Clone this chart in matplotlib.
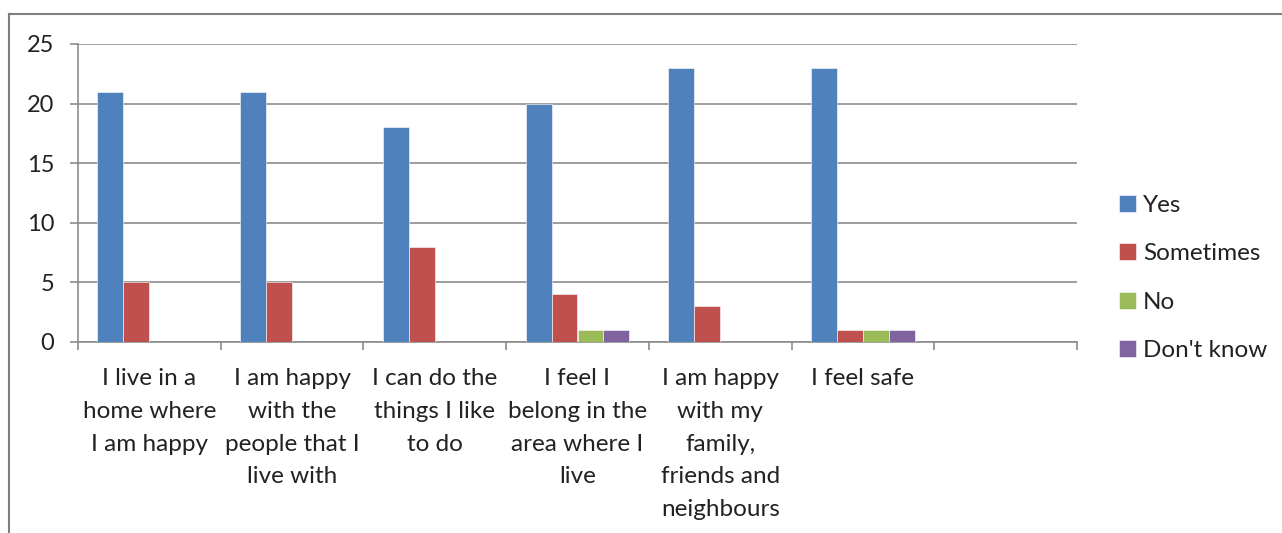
import numpy as np
import matplotlib.pyplot as plt
from matplotlib.lines import Line2D

categories = [
    "I live in a\nhome where\nI am happy",
    "I am happy\nwith the\npeople that I\nlive with",
    "I can do the\nthings I like\nto do",
    "I feel I\nbelong in the\narea where I\nlive",
    "I am happy\nwith my\nfamily,\nfriends and\nneighbours",
    "I feel safe",
    "",
]
yes = [21, 21, 18, 20, 23, 23, 0]
sometimes = [5, 5, 8, 4, 3, 1, 0]
no = [0, 0, 0, 1, 0, 1, 0]
dont_know = [0, 0, 0, 1, 0, 1, 0]

series = [
    ("Yes", yes, "#4F81BD"),
    ("Sometimes", sometimes, "#C0504D"),
    ("No", no, "#9BBB59"),
    ("Don't know", dont_know, "#8064A2"),
]

plt.rcParams['font.family'] = ['Lato', 'DejaVu Sans']
grey = "#8c8c8c"

fig = plt.figure(figsize=(12.82, 5.33), dpi=100)
ax = fig.add_axes([78 / 1282, 1 - 342 / 533, (1077 - 78) / 1282, (342 - 44) / 533])

x = np.arange(len(categories))
w = 0.182
for i, (name, vals, col) in enumerate(series):
    ax.bar(x + (i - 1.5) * w, vals, w, color=col, edgecolor="white",
           linewidth=0.4, label=name, zorder=3)

ax.set_xlim(-0.5, len(categories) - 0.5)
ax.set_ylim(0, 25)
ax.set_yticks(range(0, 26, 5))
ax.yaxis.grid(True, color=grey, linewidth=1.2, zorder=0)
ax.tick_params(axis="y", length=6, width=1.2, color=grey, pad=11,
               labelsize=17, labelcolor="#222222")

# category labels centred in slots, tick marks on the slot edges
ax.set_xticks(x)
ax.set_xticklabels(categories, fontsize=17.5, color="#222222", linespacing=1.68,
                   va="top")
ax.tick_params(axis="x", length=0, pad=19)
ax.set_xticks(np.arange(-0.5, len(categories)), minor=True)
ax.tick_params(axis="x", which="minor", length=6, width=1.2, color=grey)

for s in ["top", "right"]:
    ax.spines[s].set_visible(False)
for s in ["left", "bottom"]:
    ax.spines[s].set_color(grey)
    ax.spines[s].set_linewidth(1.2)

ax.legend(loc="center left", bbox_to_anchor=(1.02, 0.215), frameon=False,
          fontsize=17.5, handlelength=0.7, handleheight=0.7,
          handletextpad=0.3, labelspacing=1.12, labelcolor="#222222")

# outer chart frame
fx, fy = 9 / 1282, 1 - 14 / 533
fig.add_artist(Line2D([fx, fx], [0, fy], color="#7f7f7f", lw=1.5,
                      transform=fig.transFigure))
fig.add_artist(Line2D([fx, 1], [fy, fy], color="#7f7f7f", lw=1.5,
                      transform=fig.transFigure))

fig.savefig("out.png", dpi=100)
